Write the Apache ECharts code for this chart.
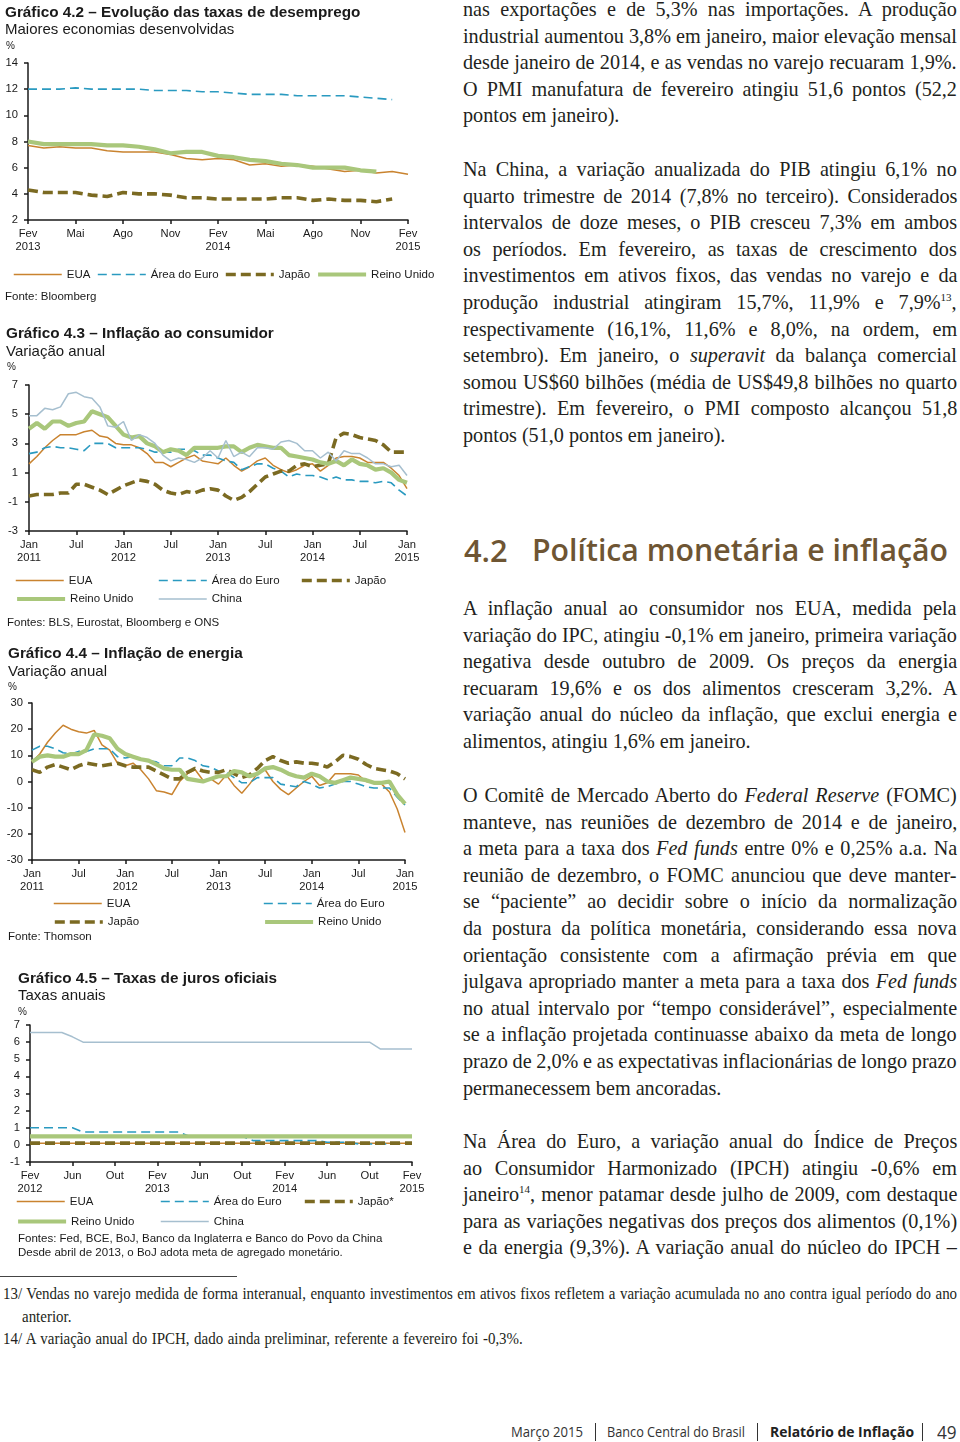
<!DOCTYPE html>
<html><head><meta charset="utf-8">
<script src="https://cdn.jsdelivr.net/npm/echarts@6/dist/echarts.min.js"></script>
<style>
html,body{margin:0;padding:0;background:#fff;}
body{width:960px;height:1442px;position:relative;overflow:hidden;}
#chart{position:absolute;left:0;top:0;width:455px;height:1270px;}
.para{position:absolute;left:463px;width:494px;font-family:'Liberation Serif','Times New Roman',serif;font-size:20.2px;color:#231f20;}
.para .l{height:26.6px;line-height:26.6px;white-space:nowrap;}
.para sup{font-size:11px;line-height:0;vertical-align:8px;}
.hd{position:absolute;top:530px;height:40px;line-height:40px;font-family:'Open Sans','Noto Sans',sans-serif;font-weight:600;color:#6e5533;white-space:nowrap;font-size:28px;}
.fn{position:absolute;font-family:'Liberation Serif','Times New Roman',serif;font-size:17.4px;color:#231f20;white-space:nowrap;height:20px;line-height:20px;transform-origin:0 50%;}
#rule{position:absolute;left:0;top:1276px;width:237px;height:1px;background:#444;}
.ft{position:absolute;top:1422px;height:20px;line-height:20px;font-family:'Open Sans','Noto Sans',sans-serif;font-size:14px;color:#333;white-space:nowrap;transform-origin:0 50%;}
.sep{position:absolute;top:1423px;width:1px;height:18px;background:#333;}
</style></head><body>
<div id="chart"></div>

<div class="para" style="top:-4px">
<div class="l j"><span>nas exportações e de 5,3% nas importações. A produção</span></div>
<div class="l j"><span>industrial aumentou 3,8% em janeiro, maior elevação mensal</span></div>
<div class="l j"><span>desde janeiro de 2014, e as vendas no varejo recuaram 1,9%.</span></div>
<div class="l j"><span>O PMI manufatura de fevereiro atingiu 51,6 pontos (52,2</span></div>
<div class="l"><span>pontos em janeiro).</span></div>
</div>

<div class="para" style="top:156px">
<div class="l j"><span>Na China, a variação anualizada do PIB atingiu 6,1% no</span></div>
<div class="l j"><span>quarto trimestre de 2014 (7,8% no terceiro). Considerados</span></div>
<div class="l j"><span>intervalos de doze meses, o PIB cresceu 7,3% em ambos</span></div>
<div class="l j"><span>os períodos. Em fevereiro, as taxas de crescimento dos</span></div>
<div class="l j"><span>investimentos em ativos fixos, das vendas no varejo e da</span></div>
<div class="l j"><span>produção industrial atingiram 15,7%, 11,9% e 7,9%<sup>13</sup>,</span></div>
<div class="l j"><span>respectivamente (16,1%, 11,6% e 8,0%, na ordem, em</span></div>
<div class="l j"><span>setembro). Em janeiro, o <i>superavit</i> da balança comercial</span></div>
<div class="l j"><span>somou US$60 bilhões (média de US$49,8 bilhões no quarto</span></div>
<div class="l j"><span>trimestre). Em fevereiro, o PMI composto alcançou 51,8</span></div>
<div class="l"><span>pontos (51,0 pontos em janeiro).</span></div>
</div>

<div class="hd" style="left:464px"><span class="hfit" data-w="44">4.2</span></div>
<div class="hd" style="left:532px"><span class="hfit" data-w="416">Política monetária e inflação</span></div>

<div class="para" style="top:595px">
<div class="l j"><span>A inflação anual ao consumidor nos EUA, medida pela</span></div>
<div class="l j"><span>variação do IPC, atingiu -0,1% em janeiro, primeira variação</span></div>
<div class="l j"><span>negativa desde outubro de 2009. Os preços da energia</span></div>
<div class="l j"><span>recuaram 19,6% e os dos alimentos cresceram 3,2%. A</span></div>
<div class="l j"><span>variação anual do núcleo da inflação, que exclui energia e</span></div>
<div class="l"><span>alimentos, atingiu 1,6% em janeiro.</span></div>
</div>

<div class="para" style="top:782px">
<div class="l j"><span>O Comitê de Mercado Aberto do <i>Federal Reserve</i> (FOMC)</span></div>
<div class="l j"><span>manteve, nas reuniões de dezembro de 2014 e de janeiro,</span></div>
<div class="l j"><span>a meta para a taxa dos <i>Fed funds</i> entre 0% e 0,25% a.a. Na</span></div>
<div class="l j"><span>reunião de dezembro, o FOMC anunciou que deve manter-</span></div>
<div class="l j"><span>se “paciente” ao decidir sobre o início da normalização</span></div>
<div class="l j"><span>da postura da política monetária, considerando essa nova</span></div>
<div class="l j"><span>orientação consistente com a afirmação prévia em que</span></div>
<div class="l j"><span>julgava apropriado manter a meta para a taxa dos <i>Fed funds</i></span></div>
<div class="l j"><span>no atual intervalo por “tempo considerável”, especialmente</span></div>
<div class="l j"><span>se a inflação projetada continuasse abaixo da meta de longo</span></div>
<div class="l j"><span>prazo de 2,0% e as expectativas inflacionárias de longo prazo</span></div>
<div class="l"><span>permanecessem bem ancoradas.</span></div>
</div>

<div class="para" style="top:1128px">
<div class="l j"><span>Na Área do Euro, a variação anual do Índice de Preços</span></div>
<div class="l j"><span>ao Consumidor Harmonizado (IPCH) atingiu -0,6% em</span></div>
<div class="l j"><span>janeiro<sup>14</sup>, menor patamar desde julho de 2009, com destaque</span></div>
<div class="l j"><span>para as variações negativas dos preços dos alimentos (0,1%)</span></div>
<div class="l j"><span>e da energia (9,3%). A variação anual do núcleo do IPCH –</span></div>
</div>

<div id="rule"></div>
<div class="fn j" data-w="954" data-s="0.86" style="left:3px;top:1283px;"><span>13/ Vendas no varejo medida de forma interanual, enquanto investimentos em ativos fixos refletem a variação acumulada no ano contra igual período do ano</span></div>
<div class="fn" data-s="0.86" style="left:22px;top:1306px;"><span>anterior.</span></div>
<div class="fn j" data-w="520" data-s="0.86" style="left:3px;top:1328px;"><span>14/ A variação anual do IPCH, dado ainda preliminar, referente a fevereiro foi -0,3%.</span></div>

<div class="ft" data-w="72" style="left:511px;">Março 2015</div>
<div class="sep" style="left:595px"></div>
<div class="ft" data-w="138" style="left:607px;">Banco Central do Brasil</div>
<div class="sep" style="left:757px"></div>
<div class="ft" data-w="144" style="left:770px;font-weight:700;color:#222;">Relatório de Inflação</div>
<div class="sep" style="left:922px"></div>
<div class="ft" data-w="20" style="left:937px;font-size:18px;">49</div>

<script>
// ---------- DATA ----------
function months(y, m, n){ const a=[]; for(let i=0;i<n;i++){ const k=m-1+i; a.push((y+Math.floor(k/12))+'-'+String(k%12+1).padStart(2,'0')); } return a; }

// Gráfico 4.2 – desemprego (Fev 2013 – Fev 2015)
const cat42 = months(2013, 2, 25);
const tick42 = ['Fev\n2013','Mai','Ago','Nov','Fev\n2014','Mai','Ago','Nov','Fev\n2015'];
const eua42  = [7.7,7.5,7.6,7.5,7.5,7.3,7.2,7.2,7.2,7.0,6.7,6.6,6.7,6.6,6.2,6.3,6.1,6.2,6.1,5.9,5.7,5.8,5.6,5.7,5.5];
const euro42 = [12.0,12.0,12.0,12.1,12.0,12.0,12.0,12.0,11.9,11.9,11.9,11.8,11.8,11.7,11.6,11.6,11.6,11.5,11.5,11.5,11.5,11.4,11.3,11.2,null];
const jap42  = [4.3,4.1,4.1,4.1,3.9,3.8,4.1,4.0,4.0,3.9,3.7,3.7,3.6,3.6,3.6,3.6,3.7,3.7,3.5,3.6,3.5,3.5,3.4,3.6,null];
const uk42   = [8.0,7.8,7.8,7.8,7.8,7.7,7.7,7.6,7.4,7.1,7.2,7.2,6.9,6.8,6.6,6.5,6.3,6.2,6.0,6.0,6.0,5.8,5.7,null,null];

// Gráfico 4.3 – inflação ao consumidor (Jan 2011 – Jan 2015)
const cat43 = months(2011, 1, 49);
const tick43 = ['Jan\n2011','Jul','Jan\n2012','Jul','Jan\n2013','Jul','Jan\n2014','Jul','Jan\n2015'];
const eua43   = [1.6,2.1,2.7,3.2,3.6,3.6,3.6,3.8,3.9,3.5,3.4,3.0, 2.9,2.9,2.7,2.3,1.7,1.7,1.4,1.7,2.0,2.2,1.8,1.7, 1.6,2.0,1.5,1.1,1.4,1.8,2.0,1.5,1.2,1.0,1.2,1.5, 1.6,1.1,1.5,2.0,2.1,2.1,2.0,1.7,1.7,1.7,1.3,0.8, -0.1];
const euro43  = [2.3,2.4,2.7,2.8,2.7,2.7,2.6,2.5,3.0,3.0,3.0,2.7, 2.7,2.7,2.7,2.6,2.4,2.4,2.4,2.6,2.6,2.5,2.2,2.2, 2.0,1.8,1.7,1.2,1.4,1.6,1.6,1.3,1.1,0.7,0.9,0.8, 0.8,0.7,0.5,0.7,0.5,0.5,0.4,0.4,0.3,0.4,0.3,-0.2, -0.6];
const jap43   = [-0.6,-0.5,-0.5,-0.5,-0.4,-0.4,0.2,0.2,0.0,-0.2,-0.5,-0.2, 0.1,0.3,0.5,0.4,0.2,-0.2,-0.4,-0.5,-0.3,-0.4,-0.2,-0.1, -0.2,-0.6,-0.9,-0.7,-0.3,0.2,0.7,0.9,1.1,1.1,1.5,1.6, 1.4,1.5,1.6,3.4,3.7,3.6,3.4,3.3,3.2,2.9,2.4,2.4, 2.4];
const uk43    = [4.0,4.4,4.0,4.5,4.5,4.2,4.4,4.5,5.2,5.0,4.8,4.2, 3.6,3.4,3.5,3.0,2.8,2.4,2.6,2.5,2.2,2.7,2.7,2.7, 2.7,2.8,2.8,2.4,2.7,2.9,2.8,2.7,2.7,2.2,2.1,2.0, 1.9,1.7,1.6,1.8,1.5,1.9,1.6,1.5,1.2,1.3,1.0,0.5, 0.3];
const china43 = [4.9,4.9,5.4,5.3,5.5,6.4,6.5,6.2,6.1,5.5,4.2,4.1, 4.5,3.2,3.6,3.4,3.0,2.2,1.8,2.0,1.9,1.7,2.0,2.5, 2.0,3.2,2.1,2.4,2.1,2.7,2.7,2.6,3.1,3.2,3.0,2.5, 2.5,2.0,2.4,1.8,2.5,2.3,2.3,2.0,1.6,1.6,1.4,1.5, 0.8];

// Gráfico 4.4 – inflação de energia (Jan 2011 – Jan 2015)
const cat44 = months(2011, 1, 49);
const tick44 = ['Jan\n2011','Jul','Jan\n2012','Jul','Jan\n2013','Jul','Jan\n2014','Jul','Jan\n2015'];
const eua44  = [7.5,10.5,15,18.5,21.5,20,19,18.5,19.5,14,12,7, 6,7,4.5,1,-3.5,-4,-5,0,3,4.5,0.5,1, -1,2.5,-1.5,-4.5,-1,3,4.5,0,-3,-5,-2.5,0, 2,-1.5,-0.5,3,3,3,2.5,0,-0.5,-1,-4,-10.5, -19.5];
const euro44 = [12,13.5,13.5,12.5,11,10.5,11.5,11.5,12.5,12.5,12.5,9.5, 9,9.5,8.5,8,7.5,6,6,9,9,8,6,5.5, 4,3.5,1.5,-0.5,-0.5,1.5,1.5,1.5,-1,-1.5,-2,0, -1,-2.5,-2,-1,0,0,-1,-2,-2.5,-2.5,-2.5,-6, -9];
const jap44  = [4.5,3.5,5.5,6.5,5.5,4.5,6,7,6.5,6,6.5,7, 6,5.5,5.5,5.5,4,2.5,1,1,3.5,5,4,3.5, 3.5,4.5,3,1.5,2.5,5,8,9.5,8,7,7.5,7, 7,6.5,5.5,7.5,10,9.5,8.5,6.5,5,4.5,4,3, 1];
const uk44   = [7.5,9.5,10,9.5,9.5,10.5,10.5,12,18,17.5,16.5,12.5, 10.5,9.5,8.5,8,6.5,5,4.5,4.5,1,0.5,0,1, 2,2,4,3.5,2,3,5,5.5,4.5,3,2,1.5, 3,2,0,-0.5,0.5,1.5,1,0.5,-0.5,-0.5,0,-5, -8.5];

// Gráfico 4.5 – taxas de juros oficiais (Fev 2012 – Fev 2015)
const cat45 = months(2012, 2, 37);
const tick45 = ['Fev\n2012','Jun','Out','Fev\n2013','Jun','Out','Fev\n2014','Jun','Out','Fev\n2015'];
const eua45   = [0.1,0.1,0.1,0.1,0.1,0.1,0.1,0.1,0.1,0.1,0.1,0.1,0.1,0.1,0.1,0.1,0.1,0.1,0.1,0.1,0.1,0.1,0.1,0.1,0.1,0.1,0.1,0.1,0.1,0.1,0.1,0.1,0.1,0.1,0.1,0.1,0.1];
const euro45  = [1,1,1,1,1, 0.75,0.75,0.75,0.75,0.75,0.75,0.75,0.75,0.75,0.75, 0.5,0.5,0.5,0.5,0.5,0.5, 0.25,0.25,0.25,0.25,0.25,0.25,0.25, 0.15,0.15,0.15, 0.05,0.05,0.05,0.05,0.05,0.05];
const jap45   = [0.1,0.1,0.1,0.1,0.1,0.1,0.1,0.1,0.1,0.1,0.1,0.1,0.1,0.1,0.1,0.1,0.1,0.1,0.1,0.1,0.1,0.1,0.1,0.1,0.1,0.1,0.1,0.1,0.1,0.1,0.1,0.1,0.1,0.1,0.1,0.1,0.1];
const uk45    = [0.5,0.5,0.5,0.5,0.5,0.5,0.5,0.5,0.5,0.5,0.5,0.5,0.5,0.5,0.5,0.5,0.5,0.5,0.5,0.5,0.5,0.5,0.5,0.5,0.5,0.5,0.5,0.5,0.5,0.5,0.5,0.5,0.5,0.5,0.5,0.5,0.5];
const china45 = [6.56,6.56,6.56,6.56,6.31, 6,6,6,6,6,6,6,6,6,6,6,6,6,6,6,6,6,6,6,6,6,6,6,6,6,6,6,6, 5.6,5.6,5.6,5.6];

// ---------- STYLE ----------
const FONT = "'Liberation Sans', Arial, sans-serif";
const INK = '#1a1a1a';
const STY = {
  'EUA':          {color:'#c9832f', width:1.5, type:'solid'},
  'Área do Euro': {color:'#2a9ac0', width:1.6, type:[9,5]},
  'Japão':        {color:'#7b6a22', width:3.6, type:[10,5]},
  'Japão*':       {color:'#7b6a22', width:3.6, type:[10,5]},
  'Reino Unido':  {color:'#a9c77b', width:4.2, type:'solid'},
  'China':        {color:'#a6bfcf', width:1.5, type:'solid'}
};

function ser(name, data, gi){
  const s = STY[name];
  return {type:'line', name, data, xAxisIndex:gi, yAxisIndex:gi, symbol:'none', showSymbol:false,
    connectNulls:false, color:s.color, itemStyle:{color:s.color},
    lineStyle:{color:s.color, width:s.width, type:s.type, cap:'butt'},
    emphasis:{disabled:true}, silent:true};
}
const axLine = {show:true, onZero:false, lineStyle:{color:INK, width:1.5}};
function xAx(gi, cats, ticks, step){
  return {type:'category', gridIndex:gi, data:cats, boundaryGap:false,
    axisLine:axLine,
    axisTick:{show:true, interval:step-1, length:4, lineStyle:{color:INK, width:1.5}},
    axisLabel:{interval:step-1, margin:7, color:INK, fontSize:11.2, fontFamily:FONT, lineHeight:13.5,
      formatter:(v,i)=>ticks[Math.round(i/step)]},
    splitLine:{show:false}};
}
function yAx(gi, min, max, interval, margin){
  return {type:'value', gridIndex:gi, min, max, interval,
    axisLine:axLine,
    axisTick:{show:true, length:4, lineStyle:{color:INK, width:1.5}},
    axisLabel:{margin, color:INK, fontSize:11.2, fontFamily:FONT},
    splitLine:{show:false}};
}
function tt(text, x, y, size, bold){
  const lh = Math.round(size*1.25);
  return {text, left:x, top:y-lh/2, padding:0, itemGap:0,
    textStyle:{fontSize:size, fontWeight:bold?'bold':'normal', color:INK, fontFamily:FONT, lineHeight:lh}};
}
function lg(name, x, y){
  const s = STY[name];
  return {data:[name], left:x, top:y-6, padding:0, itemWidth:48, itemHeight:12, selectedMode:false,
    textStyle:{fontSize:11.5, color:INK, fontFamily:FONT},
    itemStyle:{opacity:0, color:'rgba(0,0,0,0)', borderWidth:0},
    lineStyle:{color:s.color, width:s.width, type:s.type}};
}

const legendLayout = [
  ['EUA',13,274.5],['Área do Euro',97,274.5],['Japão',224,274.5],['Reino Unido',316,274.5],
  ['EUA',15,580.5],['Área do Euro',158,580.5],['Japão',300,580.5],['Reino Unido',15,599],['China',158,599],
  ['EUA',53,903.5],['Área do Euro',263,903.5],['Japão',53,922],['Reino Unido',263,922],
  ['EUA',16,1201.5],['Área do Euro',160,1201.5],['Japão*',303,1201.5],['Reino Unido',16,1221.5],['China',160,1221.5]
];

const option = {
  animation:false,
  backgroundColor:'transparent',
  title:[
    tt('Gráfico 4.2 – Evolução das taxas de desemprego',5,12.5,15.3,true),
    tt('Maiores economias desenvolvidas',5,30,15,false),
    tt('%',6,46,10,false),
    tt('Fonte: Bloomberg',5,296.5,11.5,false),
    tt('Gráfico 4.3 – Inflação ao consumidor',6,334,15.3,true),
    tt('Variação anual',6,352,15,false),
    tt('%',7,367.5,10,false),
    tt('Fontes: BLS, Eurostat, Bloomberg e ONS',7,623,11.5,false),
    tt('Gráfico 4.4 – Inflação de energia',8,654,15.3,true),
    tt('Variação anual',8,672,15,false),
    tt('%',8,687,10,false),
    tt('Fonte: Thomson',8,936.5,11.5,false),
    tt('Gráfico 4.5 – Taxas de juros oficiais',18,979,15.3,true),
    tt('Taxas anuais',18,996,15,false),
    tt('%',18,1012,10,false),
    tt('Fontes: Fed, BCE, BoJ, Banco da Inglaterra e Banco do Povo da China',18,1239,11.5,false),
    tt('Desde abril de 2013, o BoJ adota meta de agregado monetário.',18,1252.5,11.5,false)
  ],
  legend: legendLayout.map(a=>lg(a[0],a[1],a[2])),
  grid:[
    {left:28, top:63, width:380, height:157, outerBoundsMode:'none', containLabel:false},
    {left:29, top:385, width:378, height:146, outerBoundsMode:'none', containLabel:false},
    {left:32, top:703, width:373, height:157, outerBoundsMode:'none', containLabel:false},
    {left:30, top:1025, width:382, height:137, outerBoundsMode:'none', containLabel:false}
  ],
  xAxis:[ xAx(0,cat42,tick42,3), xAx(1,cat43,tick43,6), xAx(2,cat44,tick44,6), xAx(3,cat45,tick45,4) ],
  yAxis:[ yAx(0,2,14,2,10), yAx(1,-3,7,2,11), yAx(2,-30,30,10,9), yAx(3,-1,7,1,10) ],
  series:[
    ser('EUA',eua42,0), ser('Área do Euro',euro42,0), ser('Japão',jap42,0), ser('Reino Unido',uk42,0),
    ser('EUA',eua43,1), ser('Área do Euro',euro43,1), ser('Japão',jap43,1), ser('Reino Unido',uk43,1), ser('China',china43,1),
    ser('EUA',eua44,2), ser('Área do Euro',euro44,2), ser('Japão',jap44,2), ser('Reino Unido',uk44,2),
    ser('EUA',eua45,3), ser('Área do Euro',euro45,3), ser('Japão*',jap45,3), ser('Reino Unido',uk45,3), ser('China',china45,3)
  ]
};
const chart = echarts.init(document.getElementById('chart'), null, {renderer:'canvas'});
chart.setOption(option);

// ---------- TEXT LAYOUT (justify lines to the measured page widths) ----------
function layoutText(){
  document.querySelectorAll('.fn').forEach(el=>{
    const s = +(el.dataset.s||1);
    el.style.transform = 'scaleX('+s+')';
  });
  document.querySelectorAll('.j').forEach(el=>{
    const s = +(el.dataset.s||1);
    const target = (el.dataset.w ? +el.dataset.w : el.clientWidth) / s;
    const span = el.firstElementChild;
    span.style.wordSpacing = '0px';
    const w = span.offsetWidth;
    const n = (span.textContent.match(/ /g)||[]).length;
    if(n) span.style.wordSpacing = ((target - w)/n)+'px';
  });
  document.querySelectorAll('.hfit').forEach(sp=>{
    const w = sp.offsetWidth;
    const fs = parseFloat(getComputedStyle(sp.parentNode).fontSize);
    sp.parentNode.style.fontSize = (fs*(+sp.dataset.w)/w)+'px';
  });
  document.querySelectorAll('.ft').forEach(el=>{
    const w = el.offsetWidth;
    el.style.transform = 'scaleX('+((+el.dataset.w)/w)+')';
  });
}
layoutText();
if (document.fonts && document.fonts.ready) { document.fonts.ready.then(layoutText); }
</script>
</body></html>
